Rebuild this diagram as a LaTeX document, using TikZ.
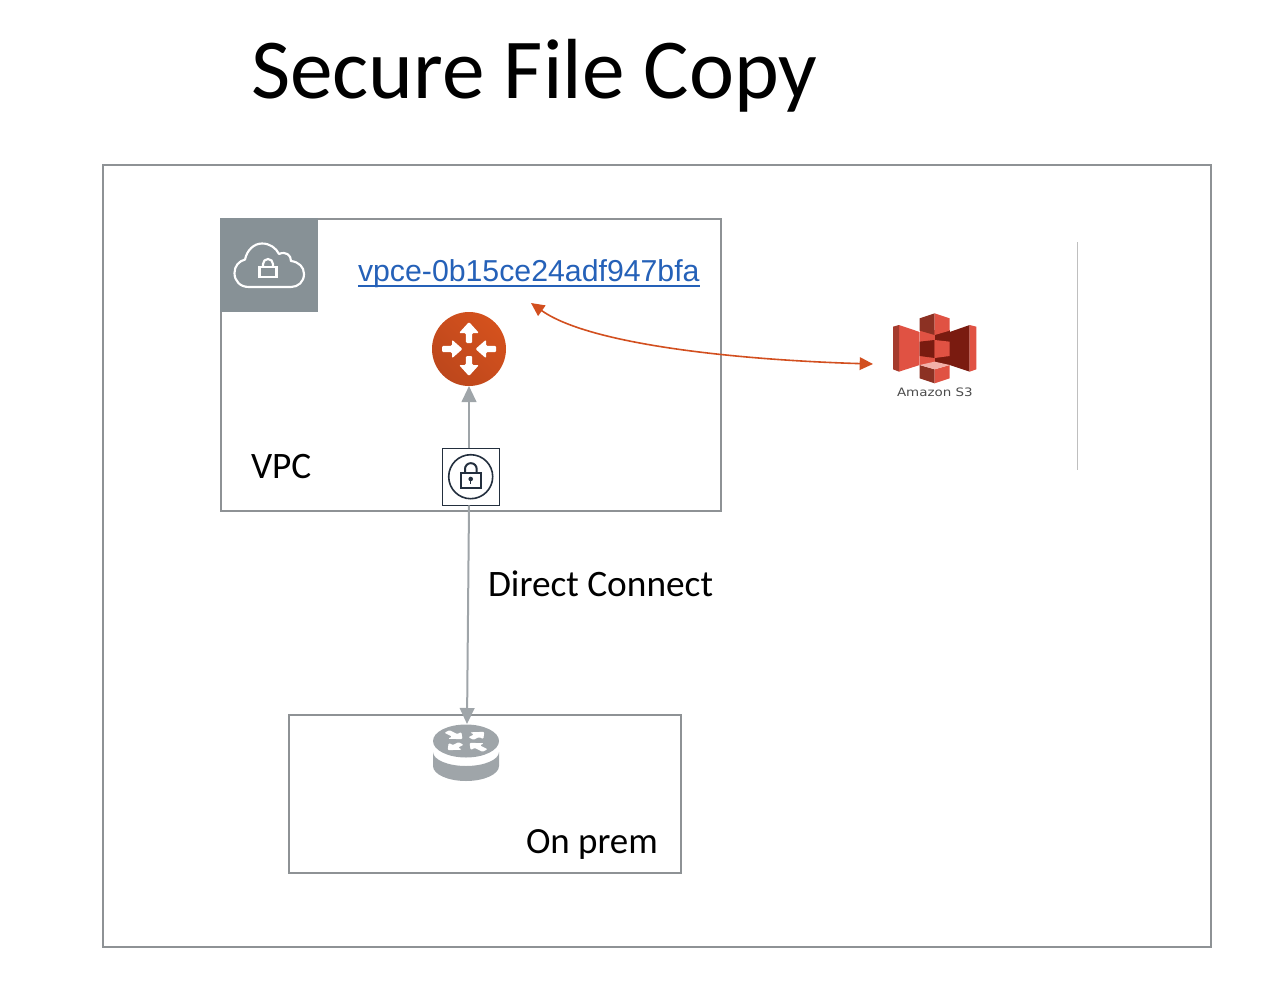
\documentclass[tikz,border=0pt]{standalone}
\usepackage{fontspec}
\setmainfont{Carlito}
\newfontfamily\linkfont{Liberation Sans}
\newfontfamily\iconfont[FakeStretch=1.16]{DejaVu Sans}
\usetikzlibrary{arrows.meta}
\definecolor{boxgray}{HTML}{8E9295}
\definecolor{headgray}{HTML}{879196}
\definecolor{arrgray}{HTML}{9FA5A9}
\definecolor{orng}{HTML}{D24F1F}
\definecolor{linkblue}{HTML}{2561B8}
\definecolor{navy}{HTML}{232F3E}
\definecolor{sL}{HTML}{E05243}
\definecolor{sD}{HTML}{7A1B10}
\definecolor{sM}{HTML}{8C3123}
\definecolor{sP}{HTML}{F2B0A9}
\tikzset{
  panel/.style={draw=boxgray,line width=1.5pt,fill=none,anchor=north west,inner sep=0pt,outer sep=0pt},
  txt/.style={anchor=base west,inner sep=0pt,outer sep=0pt,text=black},
  grayconn/.style={draw=arrgray,line width=1.5pt,-{Triangle[length=12pt,width=11pt,fill=arrgray]}},
  orangeconn/.style={draw=orng,line width=1.2pt,{Triangle[length=10pt,width=9.5pt,fill=orng]}-{Triangle[length=10pt,width=9.5pt,fill=orng]}}
}
% radial arrow: angle, tail r, head-base r, tip r, shaft half width, head half width
\newcommand{\radarrow}[6]{%
  \begin{scope}[rotate=#1]
    \fill[white,rounded corners=0.9pt] (#2,-#5) -- (#3,-#5) -- (#3,-#6) -- (#4,0) -- (#3,#6) -- (#3,#5) -- (#2,#5) -- cycle;
  \end{scope}}
\begin{document}
\begin{tikzpicture}[x=0.75pt,y=-0.75pt]
\useasboundingbox (0,0) rectangle (1288,988);
\node[txt,font=\fontsize{64}{64}\selectfont] (title) at (251,99) {Secure File Copy};

\node[panel,minimum width=1108*0.75pt,minimum height=782*0.75pt] (outer) at (103,165) {};
\node[panel,minimum width=500*0.75pt,minimum height=292*0.75pt] (vpc) at (221,219) {};
\node[panel,minimum width=392*0.75pt,minimum height=158*0.75pt] (onprem) at (289,715) {};

% VPC header tile
\node[fill=headgray,minimum width=98*0.75pt,minimum height=94*0.75pt,anchor=north west,inner sep=0pt,outer sep=0pt] (head) at (220,218) {};
\draw[white,line width=1.6pt,line join=round]
  (249,287) .. controls (240,287) and (234.5,281) .. (234.5,273)
  .. controls (234.5,266) and (239,261) .. (245,259.5)
  .. controls (247,250) and (254,243.5) .. (262,243.5)
  .. controls (270,243.5) and (276,248) .. (279,254)
  .. controls (286,251) and (291,255) .. (291,261)
  .. controls (299,262) and (304,267) .. (304,274)
  .. controls (304,282) and (298,287) .. (291,287) -- cycle;
\draw[white,line width=1.6pt] (259.5,267) rectangle (276.5,277);
\draw[white,line width=1.6pt] (263,267) -- (263,264) arc[start angle=180,end angle=360,radius=5] -- (273,264) -- (273,267);

% router (orange)
\node[circle,minimum size=74*0.75pt,inner sep=0pt,outer sep=0pt,left color=orng!95!orange,right color=orng!90!black,shading angle=315] (router) at (469,349) {};
\begin{scope}[shift={(469,349)}]
  \radarrow{90}{-7}{-16}{-27}{3.2}{10}
  \radarrow{90}{6}{16}{27}{3.2}{10}
  \radarrow{0}{-27}{-17}{-6.5}{3.2}{9.3}
  \radarrow{0}{27}{17}{6.5}{3.2}{9.3}
\end{scope}

% lock box
\node[draw=navy,fill=white,line width=0.8pt,minimum width=57*0.75pt,minimum height=57*0.75pt,inner sep=0pt,outer sep=0pt] (lockbox) at (471,476.8) {};
\draw[navy,line width=1.2pt] (470.7,476.7) circle[radius=22];
\draw[navy,line width=1.5pt] (465,473.3) -- (465,469) arc[start angle=180,end angle=360,radius=5.85] -- (476.7,473.3);
\draw[navy,line width=1.5pt,fill=white] (460.7,473.3) rectangle (481,488.3);
\fill[navy] (470.7,479) circle[radius=2.3];
\draw[navy,line width=1.1pt] (470.7,479) -- (470.7,484);

% on prem router
\coordinate (oprtop) at (467,724);
\fill[arrgray] (433,752) -- (433,766) arc[start angle=180,end angle=0,x radius=33,y radius=15] -- (499,752)
   arc[start angle=0,end angle=180,x radius=33,y radius=14] -- cycle;
\fill[arrgray] (466,741) ellipse[x radius=33,y radius=16.5];
\begin{scope}[shift={(466,741)},yscale=0.5]
  \radarrow{45}{7}{15}{26}{3.6}{9.5}
  \radarrow{225}{7}{15}{26}{3.6}{9.5}
  \radarrow{135}{27}{16}{5}{3.6}{9.5}
  \radarrow{-45}{27}{16}{5}{3.6}{9.5}
\end{scope}

% S3 icon
\begin{scope}[shift={(888,310)},x=0.25pt,y=-0.25pt]
  \fill[sL] (33,45) -- (95,66) -- (95,165) -- (33,185) -- cycle;
  \fill[sM!70!sL] (15,50) -- (33,45) -- (33,185) -- (15,178) -- cycle;
  \fill[sD] (245,45) -- (185,66) -- (185,165) -- (245,185) -- cycle;
  \fill[sL] (245,45) -- (265,50) -- (265,178) -- (245,185) -- cycle;
  \fill[sL] (95,60) rectangle (140,165);
  \fill[sD] (140,60) rectangle (185,165);
  \fill[sM] (95,25) -- (140,10) -- (140,75) -- (95,62) -- cycle;
  \fill[sL] (140,10) -- (185,25) -- (185,62) -- (140,75) -- cycle;
  \fill[sD] (95,95) -- (140,90) -- (140,144) -- (95,138) -- cycle;
  \fill[sL] (140,90) -- (185,95) -- (185,138) -- (140,144) -- cycle;
  \fill[sM] (95,165) -- (140,178) -- (140,220) -- (95,205) -- cycle;
  \fill[sL] (140,178) -- (185,165) -- (185,205) -- (140,220) -- cycle;
  \fill[sP] (95,165) -- (140,155) -- (185,165) -- (140,178) -- cycle;
\end{scope}
\coordinate (s3in) at (873,364);
\node[txt,font=\iconfont\fontsize{8.7}{9}\selectfont,text=black!70] (s3label) at (897,396) {Amazon S3};

% divider
\coordinate (divtop) at (1077.5,242);
\coordinate (divbot) at (1077.5,470);
\draw[draw=black!25,line width=0.8pt] (divtop) -- (divbot);

% link
\node[txt,font=\linkfont\fontsize{22.7}{24}\selectfont,text=linkblue] (link) at (358,281) {vpce-0b15ce24adf947bfa};
\draw[linkblue,line width=1.5pt] ([yshift=-3.6pt]link.base west) -- ([yshift=-3.6pt]link.base east);
\coordinate (linkend) at (531,303);

% connectors
\draw[grayconn] (lockbox.north -| router.south) -- (router.south);
\draw[grayconn] (lockbox.south -| router.south) -- (oprtop);
\draw[orangeconn] (linkend) .. controls (590,345) and (740,360) .. (s3in);

% labels
\node[txt,font=\fontsize{28}{30}\selectfont] (vpclabel) at (251,478) {VPC};
\node[txt,font=\fontsize{28}{30}\selectfont] (dc) at (488,596) {Direct Connect};
\node[txt,font=\fontsize{27.7}{30}\selectfont] (oplabel) at (526,853) {On prem};
\end{tikzpicture}
\end{document}
